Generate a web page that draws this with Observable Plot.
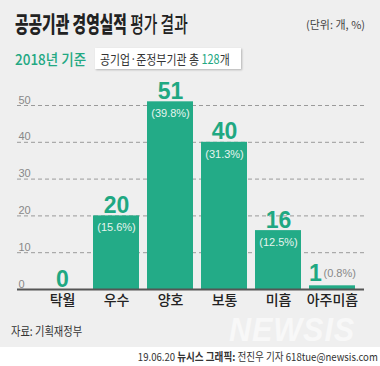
<!DOCTYPE html>
<html><head><meta charset="utf-8">
<script src="https://cdn.jsdelivr.net/npm/d3@7"></script>
<script src="https://cdn.jsdelivr.net/npm/@observablehq/plot@0.6"></script>
<style>
html,body{margin:0;padding:0;}
body{width:380px;height:366px;position:relative;overflow:hidden;background:#efefef;font-family:'Noto Sans CJK KR',sans-serif;}
.abs{position:absolute;white-space:nowrap;line-height:1;}
#title{left:15px;top:11px;font-size:22px;color:#222;transform:scaleX(0.67);transform-origin:left center;}
#title b{font-weight:900;}
#title span{font-weight:500;}
#unit{right:15px;top:19px;font-size:11px;color:#444;}
#sub{left:15px;top:51px;font-size:15px;color:#22a882;font-weight:500;transform:scaleX(0.9);transform-origin:left center;}
#box{left:95px;top:48px;width:146px;height:21px;background:#fff;box-shadow:1px 1px 2px rgba(0,0,0,0.25);}
#boxtext{left:100px;top:52px;font-size:13px;color:#333;transform:scaleX(0.84);transform-origin:left center;}
#boxtext em{font-style:normal;color:#22a882;}
#chart{position:absolute;left:0;top:70px;}
#src{left:11px;top:325px;font-size:12.5px;color:#333;transform:scaleX(0.82);transform-origin:left center;}
#wm{left:229px;top:315px;height:28px;line-height:28px;font-family:'Liberation Sans',Arial,sans-serif;font-weight:700;font-style:italic;font-size:34px;color:#f8f8f8;transform:scaleX(0.9);transform-origin:left center;letter-spacing:1px;}
#strip{left:0;top:347px;width:380px;height:19px;background:#fff;}
#foot{right:2px;top:351px;font-size:11px;color:#333;transform:scaleX(0.87);transform-origin:right center;}
#foot b{font-weight:700;}
</style></head>
<body>
<div class="abs" id="title"><b>공공기관 경영실적</b> <span>평가 결과</span></div>
<div class="abs" id="unit">(단위: 개, %)</div>
<div class="abs" id="sub">2018년 기준</div>
<div class="abs" id="box"></div>
<div class="abs" id="boxtext">공기업·준정부기관 총 <em>128</em>개</div>
<div id="chart"></div>
<div class="abs" id="src">자료: 기획재정부</div>
<div class="abs" id="wm">NEWSIS</div>
<div class="abs" id="strip"></div>
<div class="abs" id="foot">19.06.20 <b>뉴시스 그래픽:</b> 전진우 기자 618tue@newsis.com</div>
<script>
const categories = ["탁월","우수","양호","보통","미흡","아주미흡"];
const counts = [0,20,51,40,16,1];
const shares = [null,15.6,39.8,31.3,12.5,0.8];
const yTicks = [0,10,20,30,40,50];

const green = "#23ab87";
const labelGreen = "#1fa882";
const data = categories.map((c,i)=>({cat:c, value:counts[i], share:shares[i]}));
const last = categories[categories.length-1];
const numFont = "'Liberation Sans', Arial, sans-serif";
const pct = d => d.share == null ? "" : `(${d.share.toFixed(1)}%)`;

const chart = Plot.plot({
  width:380, height:240,
  marginLeft:17, marginRight:16, marginTop:35, marginBottom:21,
  style:{background:"transparent", overflow:"visible", fontFamily:"'Noto Sans CJK KR', sans-serif"},
  x:{domain:categories, paddingInner:0.15, paddingOuter:0.275, align:0.71, axis:null},
  y:{domain:[0,50], axis:null},
  marks:[
    Plot.ruleY(yTicks.filter(d=>d>0), {stroke:"#9a9a9a", strokeDasharray:"4,3", strokeWidth:1}),
    Plot.text(yTicks, {y:d=>d, text:d=>String(d), frameAnchor:"left", textAnchor:"start", lineAnchor:"bottom", dx:1, dy:-2, fill:"#888", fontSize:11, fontFamily:numFont}),
    Plot.barY(data, {x:"cat", y:"value", fill:green}),
    Plot.ruleY([0], {stroke:"#555", strokeWidth:2}),
    Plot.text(data, {filter:d=>d.cat!==last, x:"cat", y:"value", text:d=>String(d.value), lineAnchor:"bottom", dy:-3, fill:labelGreen, fontSize:23, fontWeight:"bold", fontFamily:numFont}),
    Plot.text(data, {filter:d=>d.cat===last, x:"cat", y:"value", text:d=>String(d.value), lineAnchor:"bottom", dx:-17, dy:-5, fill:labelGreen, fontSize:23, fontWeight:"bold", fontFamily:numFont}),
    Plot.text(data, {filter:d=>d.share!=null && d.cat!==last, x:"cat", y:"value", text:pct, lineAnchor:"middle", dy:12, fill:"#e6f4ee", fontSize:11, fontFamily:numFont}),
    Plot.text(data, {filter:d=>d.cat===last, x:"cat", y:"value", text:pct, lineAnchor:"middle", textAnchor:"start", dx:-9, dy:-12, fill:"#888", fontSize:11, fontFamily:numFont}),
    Plot.axisX({tickSize:0, tickPadding:6, fontSize:14, fill:"#222", label:null, fontWeight:500})
  ]
});
document.getElementById("chart").appendChild(chart);
</script>
</body></html>
